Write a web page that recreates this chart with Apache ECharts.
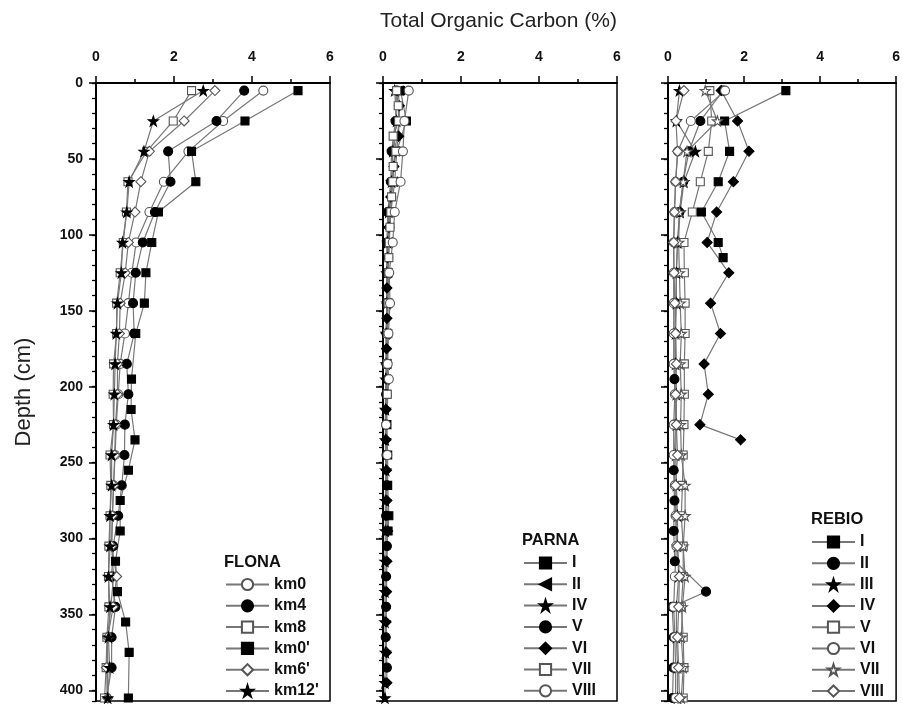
<!DOCTYPE html>
<html><head><meta charset="utf-8">
<script src="https://cdn.jsdelivr.net/npm/echarts@6/dist/echarts.min.js"></script>
<style>html,body{margin:0;padding:0;background:#fff;overflow:hidden}#c{width:903px;height:704px}</style>
</head><body><div id="c"></div>
<script>
// ---------- tick labels ----------
const xTickLabels = [0, 2, 4, 6];
const yTickLabels = [0, 50, 100, 150, 200, 250, 300, 350, 400];

// ---------- FLONA ----------
const flonaNames = ["km0", "km4", "km8", "km0'", "km6'", "km12'"];
const flonaDepth = [5,25,45,65,85,105,125,145,165,185,205,225,245,265,285,305,325,345,365,385,405];
const flonaDepthKm0p = [5,25,45,65,85,105,125,145,165,195,215,235,255,275,295,315,335,355,375,405];
const flonaKm0  = [4.29,3.26,2.37,1.74,1.37,1.03,0.92,0.83,0.74,0.62,0.57,0.52,0.49,0.45,0.42,0.40,0.45,0.38,0.30,0.30,0.28];
const flonaKm4  = [3.80,3.09,1.85,1.91,1.51,1.20,1.02,0.95,0.98,0.79,0.83,0.74,0.73,0.66,0.57,0.44,0.40,0.50,0.40,0.40,0.27];
const flonaKm8  = [2.45,1.98,1.30,0.82,0.78,0.70,0.62,0.53,0.53,0.45,0.44,0.45,0.36,0.38,0.36,0.33,0.32,0.33,0.28,0.26,0.22];
const flonaKm0p = [5.18,3.82,2.45,2.56,1.60,1.43,1.28,1.24,1.02,0.91,0.90,1.00,0.83,0.62,0.62,0.50,0.55,0.76,0.85,0.83];
const flonaKm6p = [3.05,2.26,1.37,1.15,1.00,0.83,0.75,0.62,0.60,0.55,0.55,0.50,0.48,0.45,0.42,0.40,0.53,0.44,0.30,0.27,0.30];
const flonaKm12p= [2.75,1.47,1.23,0.85,0.79,0.68,0.65,0.55,0.52,0.49,0.47,0.45,0.40,0.40,0.36,0.36,0.32,0.36,0.32,0.35,0.30];

// ---------- PARNA ----------
const parnaNames = ["I", "II", "IV", "V", "VI", "VII", "VIII"];
const parnaDepthI    = [5,25,45,65,85,105,125,145,165,185,205,225,245,265,285,295];
const parnaI         = [0.45,0.60,0.35,0.30,0.20,0.15,0.13,0.12,0.12,0.10,0.10,0.10,0.12,0.12,0.15,0.13];
const parnaDepthII   = [5,25,45,65,85,105,125,145,165,185];
const parnaII        = [0.40,0.42,0.30,0.25,0.15,0.12,0.10,0.10,0.08,0.08];
const parnaDepthIV   = [5,25,45,65,85,105,125,145,165,185,195,215,235,255,275,295,315,335,355,375,395,405];
const parnaIV        = [0.30,0.35,0.25,0.22,0.15,0.12,0.10,0.10,0.08,0.08,0.07,0.06,0.06,0.07,0.06,0.06,0.05,0.05,0.05,0.06,0.05,0.05];
const parnaDepthV    = [5,25,45,65,85,105,125,145,165,185,205,225,245,265,285,305,325,345,365,385];
const parnaV         = [0.35,0.32,0.22,0.20,0.12,0.10,0.10,0.10,0.09,0.09,0.08,0.08,0.09,0.10,0.08,0.10,0.08,0.08,0.07,0.10];
const parnaDepthVI   = [15,35,55,75,95,115,135,155,175,195,215,235,255,275,295,315,335,355,375,395];
const parnaVI        = [0.42,0.40,0.28,0.20,0.15,0.12,0.10,0.10,0.09,0.09,0.08,0.08,0.09,0.10,0.12,0.10,0.09,0.08,0.09,0.10];
const parnaDepthVII  = [5,15,25,35,45,55,65,75,85,95,105,115,125,145,165,185,205];
const parnaVII       = [0.35,0.39,0.40,0.26,0.33,0.26,0.25,0.22,0.20,0.18,0.16,0.15,0.14,0.13,0.12,0.11,0.11];
const parnaDepthVIII = [5,25,45,65,85,105,125,145,165,185,195,225,245];
const parnaVIII      = [0.66,0.55,0.51,0.45,0.30,0.25,0.16,0.18,0.14,0.12,0.15,0.08,0.11];

// ---------- REBIO ----------
const rebioNames = ["I", "II", "III", "IV", "V", "VI", "VII", "VIII"];
const rebioDepth = [5,25,45,65,85,105,125,145,165,185,205,225,245,265,285,305,325,345,365,385,405];
const rebioDepthI  = [5,25,45,65,85,105,115];
const rebioI       = [3.10,1.49,1.62,1.32,0.88,1.32,1.45];
const rebioDepthII = [5,25,45,65,85,105,125,145,165,185,195,225,255,275,295,315,335,345,365,385,405];
const rebioII      = [1.45,0.85,0.55,0.40,0.30,0.25,0.22,0.20,0.18,0.18,0.17,0.20,0.15,0.17,0.15,0.18,1.00,0.11,0.15,0.14,0.12];
const rebioIII     = [0.30,0.22,0.72,0.42,0.32,0.25,0.22,0.22,0.20,0.20,0.22,0.22,0.20,0.22,0.25,0.25,0.28,0.22,0.22,0.25,0.25];
const rebioDepthIV = [5,25,45,65,85,105,125,145,165,185,205,225,235];
const rebioIV      = [1.40,1.83,2.13,1.72,1.28,1.03,1.60,1.12,1.38,0.95,1.06,0.84,1.91];
const rebioV       = [1.10,1.15,1.06,0.85,0.64,0.42,0.43,0.45,0.45,0.43,0.43,0.42,0.40,0.38,0.35,0.40,0.40,0.35,0.40,0.42,0.40];
const rebioVI      = [1.50,0.60,0.26,0.20,0.17,0.15,0.15,0.15,0.15,0.15,0.18,0.15,0.15,0.18,0.20,0.22,0.18,0.15,0.18,0.20,0.20];
const rebioVII     = [0.98,1.30,0.50,0.40,0.30,0.28,0.30,0.32,0.35,0.32,0.35,0.33,0.35,0.45,0.45,0.40,0.45,0.38,0.35,0.40,0.35];
const rebioVIII    = [0.42,0.21,0.25,0.20,0.17,0.15,0.16,0.18,0.20,0.22,0.20,0.22,0.25,0.20,0.22,0.25,0.30,0.28,0.25,0.28,0.30];

// ---------- styling helpers ----------
const STAR = 'path://M50,0 L61.8,35.1 98.1,35.1 68.7,56.7 79.4,90.5 50,69.1 20.6,90.5 31.3,56.7 1.9,35.1 38.2,35.1 Z';
const FONT = '"Liberation Sans", Arial, sans-serif';
const M = {
  oc: {symbol: 'circle', size: 9, fill: '#fff'},
  fc: {symbol: 'circle', size: 9, fill: '#000'},
  os: {symbol: 'rect', size: 8, fill: '#fff'},
  fs: {symbol: 'rect', size: 8, fill: '#000'},
  od: {symbol: 'diamond', size: 10, fill: '#fff'},
  fd: {symbol: 'diamond', size: 10, fill: '#000'},
  fstar: {symbol: STAR, size: 10, fill: '#000'},
  ostar: {symbol: STAR, size: 10, fill: '#fff'},
  ftri: {symbol: 'triangle', size: 9, fill: '#000', rot: 90}
};
function mk(panel, name, depths, vals, m) {
  const open = m.fill === '#fff';
  return {
    type: 'line', name: panel + '|' + name,
    xAxisIndex: ['F','P','R'].indexOf(panel),
    yAxisIndex: ['F','P','R'].indexOf(panel) * 2,
    data: vals.map((v, i) => [v, depths[i]]),
    symbol: m.symbol, symbolSize: m.size, symbolRotate: m.rot || 0,
    showAllSymbol: true, animation: false,
    itemStyle: {color: m.fill, borderColor: open ? '#555' : '#000', borderWidth: 1.1, opacity: 1},
    lineStyle: {color: '#777', width: 1.2},
    emphasis: {disabled: true}
  };
}

const series = [
  mk('F', "km0", flonaDepth, flonaKm0, M.oc),
  mk('F', "km4", flonaDepth, flonaKm4, M.fc),
  mk('F', "km8", flonaDepth, flonaKm8, M.os),
  mk('F', "km0'", flonaDepthKm0p, flonaKm0p, M.fs),
  mk('F', "km6'", flonaDepth, flonaKm6p, M.od),
  mk('F', "km12'", flonaDepth, flonaKm12p, M.fstar),

  mk('P', "I", parnaDepthI, parnaI, M.fs),
  mk('P', "II", parnaDepthII, parnaII, M.ftri),
  mk('P', "IV", parnaDepthIV, parnaIV, M.fstar),
  mk('P', "V", parnaDepthV, parnaV, M.fc),
  mk('P', "VI", parnaDepthVI, parnaVI, M.fd),
  mk('P', "VII", parnaDepthVII, parnaVII, M.os),
  mk('P', "VIII", parnaDepthVIII, parnaVIII, M.oc),

  mk('R', "I", rebioDepthI, rebioI, M.fs),
  mk('R', "II", rebioDepthII, rebioII, M.fc),
  mk('R', "III", rebioDepth, rebioIII, M.fstar),
  mk('R', "IV", rebioDepthIV, rebioIV, M.fd),
  mk('R', "V", rebioDepth, rebioV, M.os),
  mk('R', "VI", rebioDepth, rebioVI, M.oc),
  mk('R', "VII", rebioDepth, rebioVII, M.ostar),
  mk('R', "VIII", rebioDepth, rebioVIII, M.od)
];

const gridLefts = [96, 383, 668];
const grids = gridLefts.map(l => ({left: l, top: 83, right: 903 - (l + 234), bottom: 3,
  show: true, borderColor: '#000', borderWidth: 1.5, backgroundColor: 'transparent', containLabel: false}));

const xAxes = gridLefts.map((l, i) => ({
  type: 'value', gridIndex: i, position: 'top', min: xTickLabels[0], max: xTickLabels[xTickLabels.length - 1], interval: 2,
  axisLine: {show: true, lineStyle: {color: '#000', width: 2}},
  axisTick: {show: true, length: 7, lineStyle: {color: '#000', width: 1.5}},
  minorTick: {show: true, splitNumber: 2, length: 4, lineStyle: {color: '#000', width: 1.5}},
  splitLine: {show: false},
  axisLabel: {margin: 19, fontSize: 14, fontWeight: 'bold', color: '#111', fontFamily: FONT}
}));

const yAxes = [];
gridLefts.forEach((l, i) => {
  yAxes.push({
    type: 'value', gridIndex: i, inverse: true, min: 0, max: 407, interval: 10, position: 'left',
    axisLine: {show: true, lineStyle: {color: '#000', width: 2}},
    axisTick: {show: true, length: 4, lineStyle: {color: '#000', width: 1.3}},
    axisLabel: {show: false}, splitLine: {show: false},
    name: i === 0 ? 'Depth (cm)' : '', nameLocation: 'middle', nameGap: 61, nameRotate: 90,
    nameTextStyle: {fontSize: 22, color: '#222', fontFamily: FONT}
  });
  yAxes.push({
    type: 'value', gridIndex: i, inverse: true, min: 0, max: 407, interval: 50, position: 'left',
    axisLine: {show: false},
    axisTick: {show: true, length: 7, lineStyle: {color: '#000', width: 1.5}},
    axisLabel: {show: i === 0, showMaxLabel: false, margin: 13, fontSize: 14, fontWeight: 'bold', color: '#111', fontFamily: FONT},
    splitLine: {show: false}
  });
});

function legendFor(panel, names, left, top) {
  return {
    data: names.map(n => panel + '|' + n), left: left, top: top, orient: 'vertical',
    itemWidth: 43, itemHeight: 14, itemGap: 5.3, padding: 0, selectedMode: false, height: 190,
    formatter: s => s.split('|')[1],
    textStyle: {fontSize: 16, fontWeight: 'bold', color: '#111', fontFamily: FONT, lineHeight: 16}
  };
}

const option = {
  backgroundColor: '#fff',
  animation: false,
  title: [
    {text: 'Total Organic Carbon (%)', left: 375, top: 6, textStyle: {fontSize: 21, fontWeight: 'normal', color: '#222', fontFamily: FONT}},
    {text: 'FLONA', left: 224, top: 554, textStyle: {fontSize: 16.5, fontWeight: 'bold', color: '#111', fontFamily: FONT}, padding: 0},
    {text: 'PARNA', left: 522, top: 532, textStyle: {fontSize: 16.5, fontWeight: 'bold', color: '#111', fontFamily: FONT}, padding: 0},
    {text: 'REBIO', left: 811, top: 511, textStyle: {fontSize: 16.5, fontWeight: 'bold', color: '#111', fontFamily: FONT}, padding: 0}
  ],
  legend: [
    legendFor('F', flonaNames, 225, 576.5),
    legendFor('P', parnaNames, 523, 555),
    legendFor('R', rebioNames, 811, 534)
  ],
  grid: grids,
  xAxis: xAxes,
  yAxis: yAxes,
  series: series
};
const chart = echarts.init(document.getElementById('c'), null, {renderer: 'canvas'});
chart.setOption(option);
</script>
</body></html>
